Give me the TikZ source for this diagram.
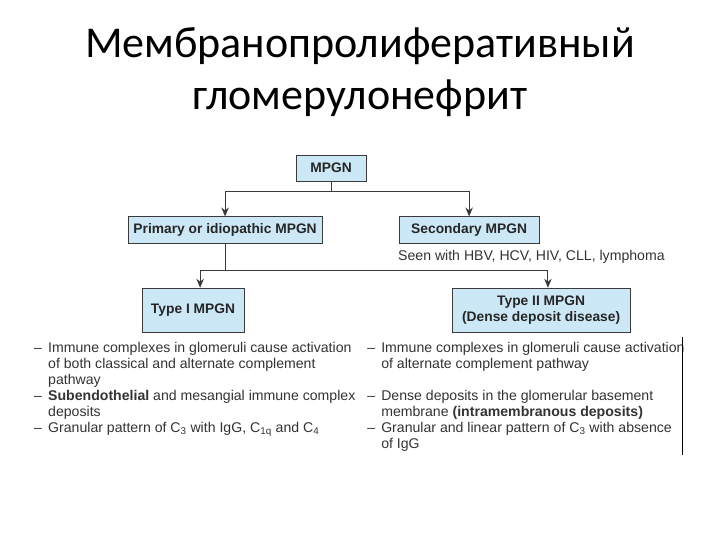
\documentclass[tikz,border=0pt]{standalone}
\usepackage{fontspec}
\setmainfont{Liberation Sans}
\newfontfamily\titlefont{Carlito}
\usepackage{tikz}
\usetikzlibrary{arrows.meta}
\definecolor{mpblue}{HTML}{CCE8F7}
\definecolor{mpline}{HTML}{3A3A3A}
\definecolor{mptext}{HTML}{333333}
\newcommand{\itemdash}{\makebox[14bp][l]{–}}
\newcommand{\itemgap}{\hspace*{14bp}}

\begin{document}
\begin{tikzpicture}[>={Stealth[length=9pt,width=7.5pt]},font=\fontsize{14.1bp}{16bp}\selectfont,
  mpbox/.style={draw=mpline,fill=mpblue,line width=0.8pt,inner sep=0pt,align=center,
    text=black!85,font=\fontsize{13.8bp}{16bp}\selectfont\bfseries},
  link/.style={draw=mpline,line width=0.9pt}]
  \useasboundingbox[fill=white] (0,0) rectangle (25.4,19.05);

  % title
  \node[align=center,font=\titlefont\fontsize{44bp}{52bp}\selectfont] (title) at (12.7,16.5)
    {Мембранопролиферативный\\гломерулонефрит};

  % boxes
  \node[mpbox,minimum width=2.47cm,minimum height=0.92cm] (mpgn) at (11.68,13.12) {MPGN};
  \node[mpbox,minimum width=6.84cm,minimum height=0.92cm] (primary) at (7.94,10.94) {Primary or idiopathic MPGN};
  \node[mpbox,minimum width=4.94cm,minimum height=0.92cm] (secondary) at (16.55,10.94) {Secondary MPGN};
  \node[anchor=west,text=mptext,inner sep=0pt] (seen) at (14.04,9.98) {Seen with HBV, HCV, HIV, CLL, lymphoma};
  \node[mpbox,minimum width=3.6cm,minimum height=1.55cm] (typeone) at (6.81,8.11) {Type I MPGN};
  \node[mpbox,minimum width=6.28cm,minimum height=1.55cm] (typetwo) at (19.09,8.11) {Type II MPGN\\(Dense deposit disease)};

  % connectors
  \coordinate (split) at (mpgn.south |- 0,12.28);
  \coordinate (subsplit) at (primary.south |- 0,9.52);
  \draw[link] (mpgn.south) -- (split);
  \draw[link,->] (split) -| (primary.north);
  \draw[link,->] (split) -| (secondary.north);
  \draw[link] (primary.south) -- (subsplit);
  \draw[link,->] (subsplit) -| ([xshift=0.25cm]typeone.north);
  \draw[link,->] (subsplit) -| ([xshift=0.24cm]typetwo.north);

  % findings
  \node[anchor=north west,align=left,text=mptext,inner sep=0pt] (typeonetext) at (1.2,6.98)
    {\itemdash Immune complexes in glomeruli cause activation\\
     \itemgap of both classical and alternate complement\\
     \itemgap pathway\\
     \itemdash\textbf{Subendothelial} and mesangial immune complex\\
     \itemgap deposits\\
     \itemdash Granular pattern of C\textsubscript{3} with IgG, C\textsubscript{1q} and C\textsubscript{4}};
  \node[anchor=north west,align=left,text=mptext,inner sep=0pt] (typetwotext) at (12.95,6.98)
    {\itemdash Immune complexes in glomeruli cause activation\\
     \itemgap of alternate complement pathway\\[16bp]
     \itemdash Dense deposits in the glomerular basement\\
     \itemgap membrane \textbf{(intramembranous deposits)}\\
     \itemdash Granular and linear pattern of C\textsubscript{3} with absence\\
     \itemgap of IgG};
  \coordinate (bartop) at (24.09,7.16);
  \coordinate (barbottom) at (24.09,3.0);
  \draw[black,line width=1pt] (bartop) -- (barbottom);
\end{tikzpicture}
\end{document}
